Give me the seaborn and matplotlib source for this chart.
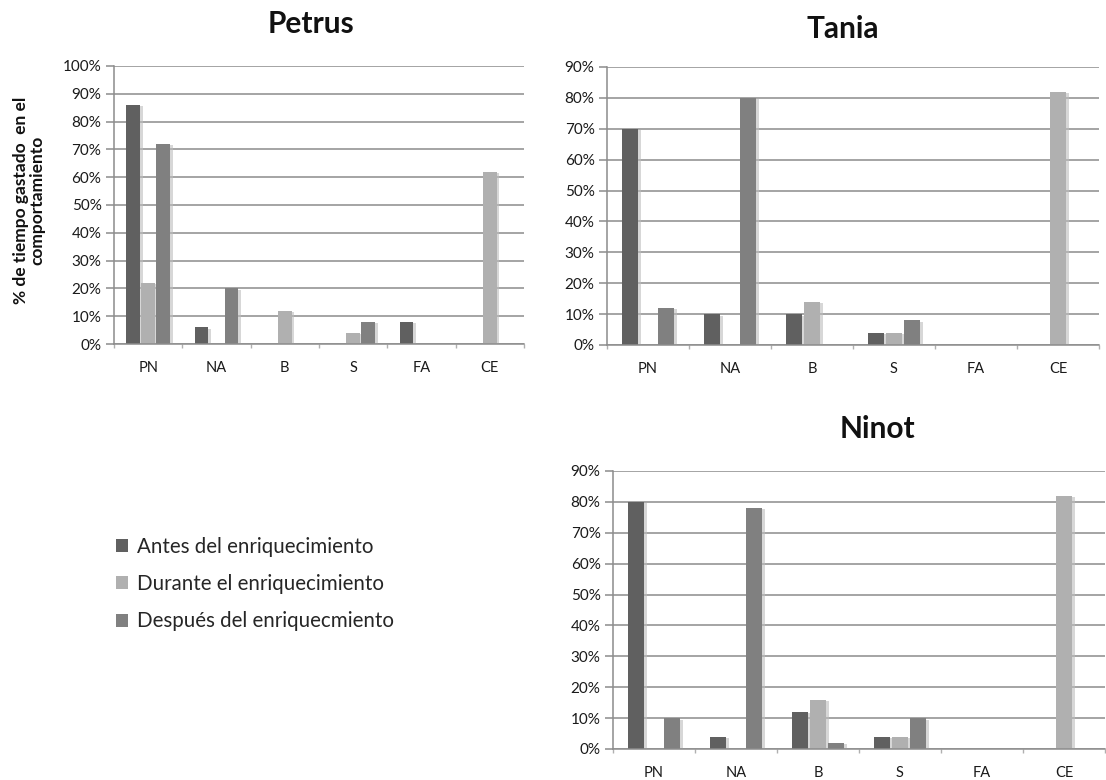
import numpy as np
import pandas as pd
import matplotlib
matplotlib.use("Agg")
import matplotlib.pyplot as plt
import matplotlib.patheffects as pe
from matplotlib.ticker import PercentFormatter, FixedLocator
import seaborn as sns

categories = ["PN", "NA", "B", "S", "FA", "CE"]
periods = ["Antes del enriquecimiento", "Durante el enriquecimiento", "Después del enriquecmiento"]
colors = ["#606060", "#b0b0b0", "#808080"]

petrus_antes = [86, 6, 0, 0, 8, 0]
petrus_durante = [22, 0, 12, 4, 0, 62]
petrus_despues = [72, 20, 0, 8, 0, 0]

tania_antes = [70, 10, 10, 4, 0, 0]
tania_durante = [0, 0, 14, 4, 0, 82]
tania_despues = [12, 80, 0, 8, 0, 0]

ninot_antes = [80, 4, 12, 4, 0, 0]
ninot_durante = [0, 0, 16, 4, 0, 82]
ninot_despues = [10, 78, 2, 10, 0, 0]


def long_frame(antes, durante, despues):
    rows = []
    for period, vals in zip(periods, [antes, durante, despues]):
        for cat, v in zip(categories, vals):
            rows.append({"cat": cat, "period": period, "value": v})
    return pd.DataFrame(rows)


sns.set_theme(style="white")
plt.rcParams["font.family"] = ["Lato", "DejaVu Sans"]

fig = plt.figure(figsize=(11.06, 7.8), dpi=100)
W, H = 1106, 780


def axes_px(x0, x1, ytop, ybot):
    return fig.add_axes([x0 / W, 1 - ybot / H, (x1 - x0) / W, (ybot - ytop) / H])


panels = [
    ("Petrus", long_frame(petrus_antes, petrus_durante, petrus_despues),
     axes_px(114, 524, 66, 344), 100, (311, 24)),
    ("Tania", long_frame(tania_antes, tania_durante, tania_despues),
     axes_px(607, 1099, 67, 345), 90, (843, 29)),
    ("Ninot", long_frame(ninot_antes, ninot_durante, ninot_despues),
     axes_px(613, 1105, 471, 749), 90, (877, 429)),
]

shadow = [pe.SimplePatchShadow(offset=(2, -1), shadow_rgbFace="#bdbdbd", alpha=0.6), pe.Normal()]
grid_col = "#8c8c8c"

for title, df, ax, ymax, (tx, ty) in panels:
    sns.barplot(data=df, x="cat", y="value", hue="period", order=categories,
                hue_order=periods, palette=colors, width=0.66, gap=0.1,
                errorbar=None, ax=ax, legend=False, linewidth=0, saturation=1)
    for p in ax.patches:
        p.set_path_effects(shadow)
    ax.set_ylim(0, ymax)
    ax.set_xlim(-0.5, 5.5)
    ax.set_yticks(np.arange(0, ymax + 1, 10))
    ax.yaxis.set_major_formatter(PercentFormatter(decimals=0))
    ax.xaxis.set_minor_locator(FixedLocator(np.arange(-0.5, 6, 1)))
    ax.grid(axis="y", color=grid_col, linewidth=1.1)
    ax.set_axisbelow(True)
    for s in ["top", "right"]:
        ax.spines[s].set_visible(False)
    for s in ["left", "bottom"]:
        ax.spines[s].set_color(grid_col)
        ax.spines[s].set_linewidth(1.1)
    ax.tick_params(axis="y", left=True, length=6, width=1.1, color=grid_col,
                   labelsize=11, labelcolor="#1a1a1a", pad=3)
    ax.tick_params(axis="x", which="major", bottom=False, labelsize=10.5,
                   labelcolor="#1a1a1a", pad=6.5)
    ax.tick_params(axis="x", which="minor", bottom=True, length=3, width=1,
                   color="#b0b0b0")
    ax.set_xlabel("")
    ax.set_ylabel("")
    fig.text(tx / W, 1 - ty / H, title, ha="center", va="center",
             fontsize=21.5, fontweight="bold", color="#111111")

fig.text(29 / W, 1 - 200 / H, "% de tiempo gastado  en el\ncomportamiento",
         rotation=90, ha="center", va="center", fontsize=12.5, fontweight="bold",
         color="#111111", linespacing=1.05)

handles = [plt.Rectangle((0, 0), 1, 1, facecolor=c, edgecolor="none") for c in colors]
fig.legend(handles, periods, loc="center left", bbox_to_anchor=(116 / W, 1 - 584 / H),
           frameon=False, fontsize=14.8, handlelength=0.6, handleheight=0.6,
           handletextpad=0.4, labelspacing=0.85, borderaxespad=0, borderpad=0)

fig.savefig("out.png", dpi=100, facecolor="white")
